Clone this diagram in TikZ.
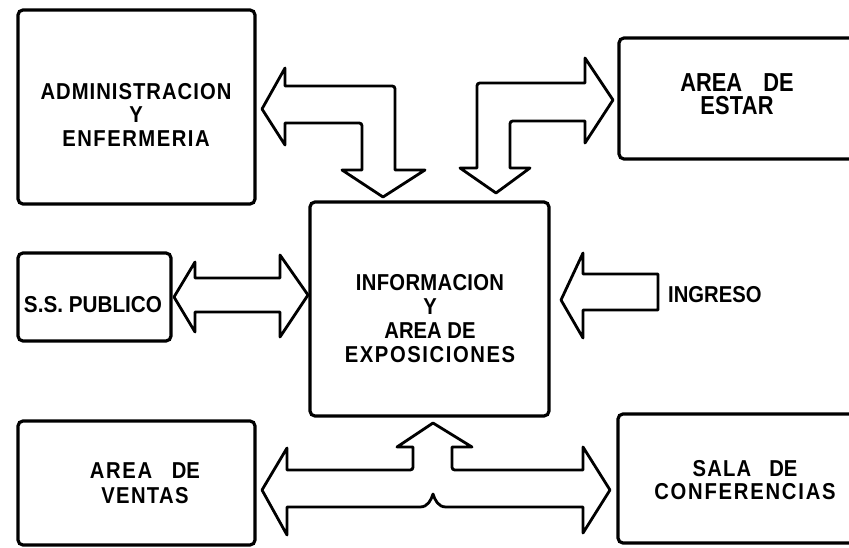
\documentclass[tikz,border=0pt]{standalone}
\usepackage{fontspec}
\setmainfont{Liberation Sans}
\newcommand{\lsp}[2]{{\addfontfeature{LetterSpace=#1}#2}}
\begin{document}
\begin{tikzpicture}[x=1pt,y=-1pt,
  box/.style={draw, line width=3.2pt, rounded corners=5pt, inner sep=0pt},
  blk/.style={draw, line width=2.8pt, line join=round, fill=white},
  lbl/.style={align=center, inner sep=0pt, xscale=0.88, transform shape}]
\useasboundingbox (0,0) rectangle (849,548);
\clip (0,0) rectangle (849,548);
% boxes
\node[box, minimum width=237pt, minimum height=194pt] (adm) at (136.5,107) {};
\node[box, minimum width=251pt, minimum height=121pt] (estar) at (744.5,98.5) {};
\node[box, minimum width=153pt, minimum height=88pt] (sspub) at (94.5,297) {};
\node[box, minimum width=239pt, minimum height=214pt] (info) at (429.5,309) {};
\node[box, minimum width=237pt, minimum height=124pt] (ventas) at (136.5,483) {};
\node[box, minimum width=252pt, minimum height=129pt] (sala) at (744,478.5) {};
% labels
\node[lbl, font=\bfseries\fontsize{23}{23.5}\selectfont] (admtxt) at (136,114.5)
  {\lsp{5}{ADMINISTRACION}\\Y\\\lsp{7.5}{ENFERMERIA}};
\node[lbl, font=\bfseries\fontsize{26}{23}\selectfont, xscale=0.84/0.88] (estartxt) at (737,94)
  {AREA\hspace{18pt} DE\\\lsp{1}{ESTAR}};
\node[lbl, font=\bfseries\fontsize{23}{24}\selectfont, xscale=0.9/0.88] (sspubtxt) at (93,305) {S.S. PUBLICO};
\node[lbl, font=\bfseries\fontsize{23}{24}\selectfont] (infotxt) at (430,319)
  {\lsp{1.5}{INFORMACION}\\Y\\AREA DE\\\lsp{7.8}{EXPOSICIONES}};
\node[lbl, font=\bfseries\fontsize{23}{24}\selectfont, anchor=west] (ingreso) at (668,295) {INGRESO};
\node[lbl, font=\bfseries\fontsize{23}{25}\selectfont] (ventastxt) at (145,483)
  {\lsp{8}{AREA}\hspace{16pt} DE\\\lsp{6.5}{VENTAS}};
\node[lbl, font=\bfseries\fontsize{23}{23}\selectfont] (salatxt) at (745,480)
  {\lsp{6}{SALA}\hspace{14pt} DE\\\lsp{8.7}{CONFERENCIAS}};
% block arrows
% admin <-> info
\draw[blk] (262,109) -- (285,68) -- (285,86) -- (389,86) .. controls (395,86) .. (395,92)
  -- (395,170) -- (425,170) -- (383,197) -- (342,170) -- (362,170) -- (362,129)
  .. controls (362,123) .. (356,123) -- (285,123) -- (285,145) -- cycle;
% estar <-> info
\draw[blk] (613,100) -- (585,58) -- (585,83) -- (483,83) .. controls (477,83) .. (477,89)
  -- (477,168) -- (460,168) -- (496,193) -- (530,168) -- (510,168) -- (510,127)
  .. controls (510,121) .. (516,121) -- (585,121) -- (585,143) -- cycle;
% ss publico <-> info
\draw[blk] (174,297) -- (195,262) -- (195,278) -- (280,278) -- (280,255) -- (308,295)
  -- (280,337) -- (280,312) -- (195,312) -- (195,332) -- cycle;
% ingreso
\draw[blk] (561,300) -- (583,253) -- (583,274) -- (658,274) -- (658,310) -- (583,310)
  -- (583,338) -- cycle;
% ventas / sala <-> info
\draw[blk] (433,423) -- (472,447) -- (452,447) -- (452,464) .. controls (452,470) .. (458,470)
  -- (583,470) -- (583,447) -- (610,490) -- (583,533) -- (583,507) -- (446,507)
  .. controls (438,507) and (435,500) .. (433,494)
  .. controls (431,500) and (428,507) .. (420,507)
  -- (287,507) -- (287,535) -- (262,490) -- (287,448) -- (287,470) -- (407,470)
  .. controls (413,470) .. (413,464) -- (413,447) -- (397,447) -- cycle;
\end{tikzpicture}
\end{document}
